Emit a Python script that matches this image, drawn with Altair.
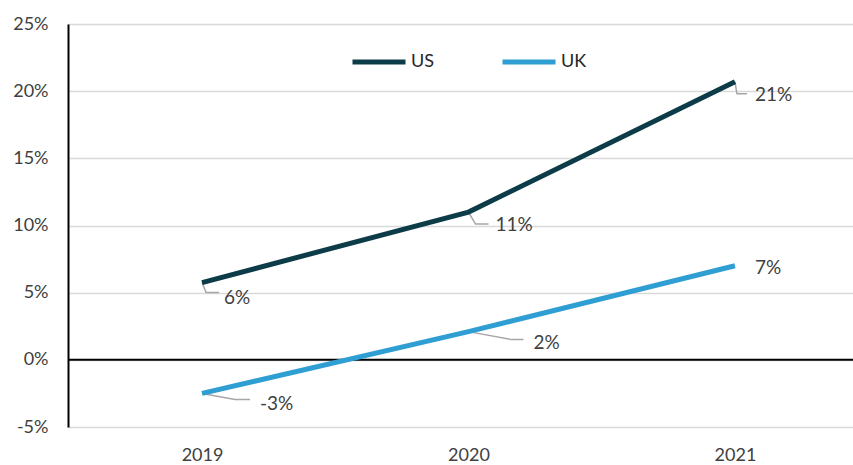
import altair as alt
import pandas as pd

years = [2019, 2020, 2021]
us_values = [5.75, 11.0, 20.7]
uk_values = [-2.5, 2.1, 7.0]
us_labels = ["6%", "11%", "21%"]
uk_labels = ["-3%", "2%", "7%"]
y_ticks = [-5, 0, 5, 10, 15, 20, 25]

# label layout (pixel offsets from each point): bend, end of leader, label anchor
us_bend = [(4, 10), (7, 12), (2, 12)]
us_end = [(17, 10), (20, 12), (12, 12)]
us_lab = [(22, 15), (27, 13), (20, 13)]
uk_bend = [(33, 6), (43, 8), None]
uk_end = [(48, 6), (55, 8), None]
uk_lab = [(58, 11), (65, 11), (20, 2)]

W, H = 785, 403
X_DOMAIN = [2018.497, 2021.443]
Y_DOMAIN = [-5, 25]
px_per_x = W / (X_DOMAIN[1] - X_DOMAIN[0])
px_per_y = H / (Y_DOMAIN[1] - Y_DOMAIN[0])

US_COLOR = "#0c3c48"
UK_COLOR = "#2f9ed2"
FONT = "Lato"

rows = []
for s, vals in (("US", us_values), ("UK", uk_values)):
    for yr, v in zip(years, vals):
        rows.append({"series": s, "year": yr, "value": v})
df = pd.DataFrame(rows)

lead_rows, lab_rows = [], []
k = 0
for s, vals, labs, bends, ends, lpos in (
    ("US", us_values, us_labels, us_bend, us_end, us_lab),
    ("UK", uk_values, uk_labels, uk_bend, uk_end, uk_lab),
):
    for yr, v, t, b, e, lp in zip(years, vals, labs, bends, ends, lpos):
        if b is not None:
            pts = [(0, 0), b, e]
            for i, (dx, dy) in enumerate(pts):
                lead_rows.append({"id": k, "ord": i,
                                  "x": yr + dx / px_per_x,
                                  "y": v - dy / px_per_y})
        lab_rows.append({"x": yr + lp[0] / px_per_x,
                         "y": v - lp[1] / px_per_y, "text": t})
        k += 1
lead_df = pd.DataFrame(lead_rows)
lab_df = pd.DataFrame(lab_rows)

xscale = alt.Scale(domain=X_DOMAIN, nice=False, zero=False)
yscale = alt.Scale(domain=Y_DOMAIN, nice=False, zero=False)

lines = alt.Chart(df).mark_line(strokeWidth=5, strokeCap="butt").encode(
    x=alt.X("year:Q", scale=xscale,
            axis=alt.Axis(values=years, format="d", title=None, grid=False,
                          ticks=False, domain=False, labelPadding=19,
                          labelFontSize=18, labelColor="#404040", labelFont=FONT)),
    y=alt.Y("value:Q", scale=yscale,
            axis=alt.Axis(values=y_ticks, labelExpr="datum.value + '%'", title=None,
                          grid=True, gridColor="#d9d9d9", gridWidth=1.5,
                          ticks=False, domain=True, domainColor="#000000",
                          domainWidth=2, labelPadding=20, labelFontSize=18,
                          labelColor="#404040", labelFont=FONT)),
    color=alt.Color("series:N",
                    scale=alt.Scale(domain=["US", "UK"], range=[US_COLOR, UK_COLOR]),
                    legend=alt.Legend(title=None, orient="none", direction="horizontal",
                                      legendX=282, legendY=9, symbolType="stroke",
                                      symbolSize=2809, symbolStrokeWidth=5,
                                      labelFontSize=18, labelFont=FONT,
                                      labelColor="#262626", labelOffset=3,
                                      columnPadding=57, padding=0)),
)

zero = alt.Chart(pd.DataFrame({"y": [0]})).mark_rule(color="#000000", strokeWidth=2).encode(
    y=alt.Y("y:Q", scale=yscale)
)

leaders = alt.Chart(lead_df).mark_line(color="#a6a6a6", strokeWidth=1.5).encode(
    x=alt.X("x:Q", scale=xscale),
    y=alt.Y("y:Q", scale=yscale),
    detail="id:N",
    order="ord:Q",
)

labels = alt.Chart(lab_df).mark_text(align="left", baseline="middle", fontSize=19,
                                     font=FONT, color="#404040").encode(
    x=alt.X("x:Q", scale=xscale),
    y=alt.Y("y:Q", scale=yscale),
    text="text:N",
)

chart = alt.layer(zero, leaders, lines, labels).properties(
    width=W, height=H,
    autosize=alt.AutoSizeParams(type="none"),
    padding={"left": 68, "top": 24, "right": 0, "bottom": 38},
).configure_view(stroke=None).configure(background="#ffffff")

chart.save("out.html", embed_options={"renderer": "svg", "actions": False})
